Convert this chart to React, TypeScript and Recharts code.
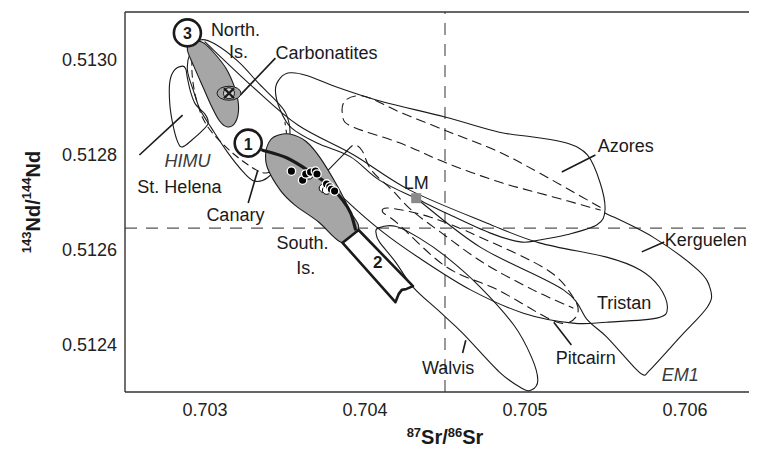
import React from "react";
import { ComposedChart, Scatter, XAxis, YAxis, ReferenceLine } from "recharts";

// field outlines, [87Sr/86Sr, 143Nd/144Nd]
const stHelena = [
  [0.70286, 0.512986], [0.70281, 0.512978], [0.70278, 0.512953], [0.70278, 0.512906],
  [0.7028, 0.512862], [0.70283, 0.512826], [0.70286, 0.512816], [0.70292, 0.512831],
  [0.70298, 0.512849], [0.70302, 0.512866], [0.703, 0.512885], [0.70294, 0.512906],
  [0.70291, 0.512932], [0.70289, 0.512961], [0.70288, 0.51298],
];
const canary = [
  [0.70297, 0.513041], [0.70291, 0.513016], [0.70289, 0.512978], [0.70293, 0.512932],
  [0.70297, 0.512894], [0.70304, 0.512856], [0.70314, 0.512805], [0.70324, 0.512763],
  [0.70331, 0.512744], [0.70339, 0.512751], [0.70348, 0.512788], [0.70353, 0.512841],
  [0.70351, 0.512883], [0.70345, 0.512911], [0.70334, 0.512948], [0.70321, 0.512995],
  [0.70306, 0.513033],
];
const canaryDashed = [
  [0.70292, 0.513028], [0.70292, 0.512967], [0.70295, 0.512911], [0.70301, 0.512862],
  [0.70313, 0.512816], [0.70327, 0.512778], [0.70338, 0.512761], [0.70347, 0.512782],
  [0.70351, 0.512826], [0.7035, 0.512868],
];
const northIs = [
  [0.70291, 0.513037], [0.70298, 0.513037], [0.70304, 0.51302], [0.70313, 0.512982],
  [0.70319, 0.512936], [0.70321, 0.512898], [0.70319, 0.512868], [0.70314, 0.512858],
  [0.70309, 0.512871], [0.70304, 0.512902], [0.70299, 0.51294], [0.70293, 0.512986],
  [0.70289, 0.51302],
];
const southIs = [
  [0.70341, 0.512831], [0.70346, 0.512841], [0.70353, 0.512843], [0.70363, 0.512828],
  [0.70372, 0.512793], [0.70383, 0.512732], [0.70391, 0.512679], [0.70396, 0.512645],
  [0.70386, 0.512614], [0.70371, 0.512658], [0.70356, 0.512694], [0.70347, 0.512725],
  [0.70339, 0.512772], [0.70338, 0.512805],
];
const trend1 = [
  [0.70336, 0.512809], [0.70351, 0.512793], [0.70366, 0.512763], [0.70378, 0.512734],
  [0.70386, 0.512704], [0.70391, 0.512677], [0.70394, 0.512643],
];
const box2 = [
  [0.70386, 0.512614], [0.70396, 0.512641], [0.7043, 0.512523], [0.70426, 0.512517],
  [0.70423, 0.512515], [0.70421, 0.512506], [0.70419, 0.512489],
];
const azores = [
  [0.70347, 0.512961], [0.70353, 0.512972], [0.70363, 0.512967], [0.70384, 0.51294],
  [0.70411, 0.512911], [0.7045, 0.512879], [0.70484, 0.512847], [0.70505, 0.512837],
  [0.70526, 0.512824], [0.70539, 0.512799], [0.70547, 0.51274], [0.7055, 0.512683],
  [0.70545, 0.512652], [0.70526, 0.512631], [0.70509, 0.51262], [0.70497, 0.512616],
  [0.70478, 0.512635], [0.70453, 0.512673], [0.70434, 0.512704], [0.70409, 0.512746],
  [0.70391, 0.512795], [0.7037, 0.512824], [0.70354, 0.512856], [0.70347, 0.512894],
  [0.70344, 0.512936],
];
const azoresDashed = [
  [0.70547, 0.512689], [0.70509, 0.512761], [0.70484, 0.512805], [0.70453, 0.512847],
  [0.70422, 0.512889], [0.70403, 0.512919], [0.70394, 0.512923], [0.70387, 0.512911],
  [0.70386, 0.512885], [0.70391, 0.51286], [0.70422, 0.512824], [0.70451, 0.512782],
  [0.70484, 0.512742], [0.70513, 0.512715], [0.70547, 0.512683],
];
const tristan = [
  [0.703, 0.513037], [0.7033, 0.512942], [0.70358, 0.512862], [0.70393, 0.512799],
  [0.70428, 0.512725], [0.70476, 0.512656], [0.70509, 0.512614], [0.70551, 0.512584],
  [0.70572, 0.512557], [0.70584, 0.512521], [0.70589, 0.512479], [0.70583, 0.512456],
  [0.70551, 0.512447], [0.7053, 0.512445], [0.70499, 0.512466], [0.70466, 0.512515],
  [0.70434, 0.512582], [0.70411, 0.512637], [0.70388, 0.512704], [0.70366, 0.512778],
  [0.7035, 0.512837],
];
const walvis = [
  [0.70408, 0.512645], [0.70419, 0.512649], [0.70434, 0.512624], [0.70451, 0.512584],
  [0.70472, 0.512521], [0.70493, 0.512441], [0.70504, 0.512374], [0.70508, 0.512325],
  [0.70504, 0.512304], [0.70498, 0.512308], [0.70484, 0.512342], [0.70461, 0.512424],
  [0.70447, 0.512468], [0.7043, 0.512521], [0.70419, 0.512574], [0.70409, 0.512616],
  [0.70407, 0.512633],
];
const kerguelen = [
  [0.70432, 0.512708], [0.70472, 0.512605], [0.70524, 0.512515], [0.70539, 0.512452],
  [0.70551, 0.512416], [0.70568, 0.512353], [0.70574, 0.512336], [0.70578, 0.512346],
  [0.70597, 0.512416], [0.70614, 0.512479], [0.70616, 0.512515], [0.70608, 0.512557],
  [0.7058, 0.512626], [0.7055, 0.512677],
];
const pitcairn = [
  [0.70411, 0.512679], [0.70416, 0.512687], [0.70441, 0.512668], [0.70472, 0.512626],
  [0.70514, 0.512557], [0.7053, 0.5125], [0.70533, 0.512466], [0.70526, 0.512445],
  [0.70514, 0.512456], [0.70483, 0.512515], [0.70451, 0.512563], [0.7042, 0.512656],
];
const pitcairnTail = [[0.70377, 0.512767], [0.70388, 0.512805]];
const pitcairnDashed = [
  [0.70388, 0.512805], [0.70393, 0.51282], [0.70398, 0.512809], [0.70404, 0.512767],
  [0.70417, 0.512725], [0.70429, 0.512683], [0.70447, 0.512637], [0.70474, 0.512572],
  [0.70505, 0.512515], [0.7053, 0.512477],
];

// samples
const blackSamples = [
  [0.70354, 0.512765], [0.70361, 0.512746], [0.70363, 0.512759], [0.70366, 0.512763],
  [0.70369, 0.512765], [0.7037, 0.512759], [0.70376, 0.512738], [0.70378, 0.512732],
  [0.70379, 0.512727], [0.70381, 0.512723],
];
const whiteSamples = [[0.70365, 0.512757], [0.70374, 0.512729], [0.70376, 0.512725]];
const carbonatites = [[0.70315, 0.512929]];
const lm = [[0.70432, 0.512708]];

// reference values (Bulk Earth)
const bulkSr = 0.7045;
const churNd = 0.512645;

const xTicks = [0.703, 0.7035, 0.704, 0.7045, 0.705, 0.7055, 0.706];
const yTicks = [0.5124, 0.5126, 0.5128, 0.513];
const yMinor = [0.5124, 0.5125, 0.5126, 0.5127, 0.5128, 0.5129, 0.513];

const numbered = [
  { sr: 0.70327, nd: 0.512824, text: "1" },
  { sr: 0.70289, nd: 0.513056, text: "3" },
];
const labels = [
  { sr: 0.70319, nd: 0.513062, text: "North." },
  { sr: 0.70321, nd: 0.513016, text: "Is." },
  { sr: 0.70376, nd: 0.513014, text: "Carbonatites" },
  { sr: 0.70289, nd: 0.512786, text: "HIMU" },
  { sr: 0.70284, nd: 0.512732, text: "St. Helena" },
  { sr: 0.70319, nd: 0.512673, text: "Canary" },
  { sr: 0.70361, nd: 0.512614, text: "South." },
  { sr: 0.70363, nd: 0.512561, text: "Is." },
  { sr: 0.70432, nd: 0.51274, text: "LM" },
  { sr: 0.70563, nd: 0.512818, text: "Azores" },
  { sr: 0.70613, nd: 0.51262, text: "Kerguelen" },
  { sr: 0.70562, nd: 0.512487, text: "Tristan" },
  { sr: 0.70538, nd: 0.512372, text: "Pitcairn" },
  { sr: 0.70452, nd: 0.512351, text: "Walvis" },
  { sr: 0.70597, nd: 0.512336, text: "EM1" },
];
const boxLabel = [{ sr: 0.70408, nd: 0.512572, text: "2" }];
const leaders = [
  [[0.70322, 0.512925], [0.70344, 0.513003]],
  [[0.70259, 0.512799], [0.70286, 0.512883]],
  [[0.70327, 0.512698], [0.70333, 0.512767]],
  [[0.70523, 0.512763], [0.70544, 0.512799]],
  [[0.70573, 0.512595], [0.70587, 0.512616]],
  [[0.70518, 0.512447], [0.70529, 0.512399]],
  [[0.70463, 0.512409], [0.70461, 0.512382]],
];
const italic = ["HIMU", "EM1"];

const FONT = '"Liberation Sans", Arial, Helvetica, sans-serif';
const INK = "#1a1a1a";

const toPts = (arr: number[][]) => arr.map(([sr, nd]) => ({ sr, nd }));

function smoothPath(pts: { x: number; y: number }[], closed: boolean) {
  const n = pts.length;
  if (n < 2) return "";
  const get = (i: number) => (closed ? pts[(i + n) % n] : pts[Math.max(0, Math.min(n - 1, i))]);
  let d = `M${pts[0].x},${pts[0].y}`;
  const segs = closed ? n : n - 1;
  for (let i = 0; i < segs; i++) {
    const p0 = get(i - 1), p1 = get(i), p2 = get(i + 1), p3 = get(i + 2);
    const c1x = p1.x + (p2.x - p0.x) / 6, c1y = p1.y + (p2.y - p0.y) / 6;
    const c2x = p2.x - (p3.x - p1.x) / 6, c2y = p2.y - (p3.y - p1.y) / 6;
    d += `C${c1x},${c1y},${c2x},${c2y},${p2.x},${p2.y}`;
  }
  return closed ? d + "Z" : d;
}

function straightPath(pts: { x: number; y: number }[], closed: boolean) {
  const d = pts.map((p, i) => `${i ? "L" : "M"}${p.x},${p.y}`).join("");
  return closed ? d + "Z" : d;
}

type Style = { closed?: boolean; fill?: string; width?: number; dash?: string; straight?: boolean };

const outline = (s: Style) => (props: any) => {
  const pts = (props.points || []).filter((p: any) => p && Number.isFinite(p.x) && Number.isFinite(p.y));
  const d = s.straight ? straightPath(pts, !!s.closed) : smoothPath(pts, !!s.closed);
  return (
    <path
      d={d}
      fill={s.fill ?? "none"}
      stroke={INK}
      strokeWidth={s.width ?? 1.1}
      strokeDasharray={s.dash}
      strokeLinejoin="round"
      strokeLinecap="round"
    />
  );
};

const noDot = () => <g />;

const field = (name: string, arr: number[][], s: Style) => (
  <Scatter
    key={name}
    name={name}
    data={toPts(arr)}
    dataKey="nd"
    line={outline(s)}
    lineType="joint"
    shape={noDot}
    isAnimationActive={false}
  />
);

const TextMark = (props: any) => {
  const { cx, cy, payload } = props;
  const it = italic.includes(payload.text);
  return (
    <text
      x={cx}
      y={cy}
      textAnchor="middle"
      dominantBaseline="central"
      fontFamily={FONT}
      fontSize={18}
      fontStyle={it ? "italic" : "normal"}
      fill={it ? "#3a3a3a" : INK}
    >
      {payload.text}
    </text>
  );
};

const BoxNumber = (props: any) => (
  <text x={props.cx} y={props.cy} textAnchor="middle" dominantBaseline="central"
    fontFamily={FONT} fontSize={17} fontWeight="bold" fill={INK}>
    {props.payload.text}
  </text>
);

const CircleNumber = (props: any) => (
  <g>
    <circle cx={props.cx} cy={props.cy} r={13.5} fill="#fff" stroke={INK} strokeWidth={2.6} />
    <text x={props.cx} y={props.cy + 1} textAnchor="middle" dominantBaseline="central"
      fontFamily={FONT} fontSize={16} fontWeight="bold" fill={INK}>
      {props.payload.text}
    </text>
  </g>
);

const CarbMark = (props: any) => {
  const { cx, cy } = props;
  return (
    <g>
      <ellipse cx={cx} cy={cy} rx={12} ry={7} fill="#a3a3a3" stroke={INK} strokeWidth={1} />
      <circle cx={cx} cy={cy} r={5.5} fill="#d0d0d0" stroke={INK} strokeWidth={1} />
      <path d={`M${cx - 5},${cy - 5}L${cx + 5},${cy + 5}M${cx + 5},${cy - 5}L${cx - 5},${cy + 5}`}
        stroke={INK} strokeWidth={2.4} />
    </g>
  );
};

const LmMark = (props: any) => (
  <rect x={props.cx - 5} y={props.cy - 5} width={10} height={10} fill="#8a8a8a" />
);

const BlackDot = (props: any) => (
  <circle cx={props.cx} cy={props.cy} r={4.2} fill="#000" stroke="#fff" strokeWidth={1.3} />
);
const WhiteDot = (props: any) => (
  <circle cx={props.cx} cy={props.cy} r={4.2} fill="#fff" stroke="#000" strokeWidth={1} />
);

const YTitle = (props: any) => {
  const vb = props.viewBox || { x: 0, y: 0, width: 0, height: 0 };
  const x = vb.x + 25;
  const y = vb.y + vb.height / 2;
  return (
    <text x={x} y={y} transform={`rotate(-90 ${x} ${y})`} textAnchor="middle"
      fontFamily={FONT} fontWeight="bold" fontSize={20} fill={INK} dominantBaseline="central">
      <tspan fontSize={13} dy={-7}>143</tspan>
      <tspan dy={7}>Nd/</tspan>
      <tspan fontSize={13} dy={-7}>144</tspan>
      <tspan dy={7}>Nd</tspan>
    </text>
  );
};

const XTitle = (props: any) => {
  const vb = props.viewBox || { x: 0, y: 0, width: 0, height: 0 };
  const x = vb.x + vb.width * (320 / 632);
  const y = vb.y + 52;
  return (
    <text x={x} y={y} textAnchor="middle" fontFamily={FONT} fontWeight="bold" fontSize={20} fill={INK}>
      <tspan fontSize={13} dy={-7}>87</tspan>
      <tspan dy={7}>Sr/</tspan>
      <tspan fontSize={13} dy={-7}>86</tspan>
      <tspan dy={7}>Sr</tspan>
    </text>
  );
};

const fmtX = (v: number) => (Math.abs(v * 1000 - Math.round(v * 1000)) < 1e-6 ? v.toFixed(3) : "");

export default function App() {
  const xDomain: [number, number] = [0.7025, 0.70645];
  const yDomain: [number, number] = [0.5123, 0.5131];
  return (
    <div style={{ width: 749, height: 440 }}>
      <ComposedChart width={749} height={440} margin={{ top: 4, right: 0, bottom: 0, left: 0 }}
        style={{ fontFamily: FONT }}>
        <XAxis xAxisId={0} dataKey="sr" type="number" domain={xDomain} allowDataOverflow
          ticks={xTicks} tickFormatter={fmtX} interval={0} tickLine={false} tickMargin={5} height={56}
          axisLine={{ stroke: "#333", strokeWidth: 1.4 }}
          tick={{ fontSize: 18, fill: "#222", fontFamily: FONT }} label={<XTitle />} />
        <XAxis xAxisId="bt" dataKey="sr" type="number" domain={xDomain} allowDataOverflow
          ticks={xTicks} interval={0} mirror tick={false} axisLine={false} tickSize={7}
          tickLine={{ stroke: "#333", strokeWidth: 1.4 }} />
        <XAxis xAxisId="top" orientation="top" dataKey="sr" type="number" domain={xDomain}
          allowDataOverflow ticks={xTicks} interval={0} mirror tick={false} tickSize={7}
          axisLine={{ stroke: "#333", strokeWidth: 1.4 }} tickLine={{ stroke: "#333", strokeWidth: 1.4 }} />
        <YAxis yAxisId={0} dataKey="nd" type="number" domain={yDomain} allowDataOverflow
          ticks={yTicks} interval={0} tickFormatter={(v: number) => v.toFixed(4)} width={117}
          tickLine={false} tickMargin={2} axisLine={{ stroke: "#333", strokeWidth: 1.4 }}
          tick={{ fontSize: 18, fill: "#222", fontFamily: FONT }} label={<YTitle />} />
        <YAxis yAxisId="yt" dataKey="nd" type="number" domain={yDomain} allowDataOverflow
          ticks={yMinor} interval={0} mirror tick={false} axisLine={false} tickSize={7}
          tickLine={{ stroke: "#333", strokeWidth: 1.4 }} />

        <ReferenceLine x={bulkSr} stroke="#555" strokeWidth={1.2} strokeDasharray="12 9" />
        <ReferenceLine y={churNd} stroke="#555" strokeWidth={1.2} strokeDasharray="12 9" />

        {field("St. Helena", stHelena, { closed: true })}
        {field("Canary", canary, { closed: true })}
        {field("Canary dashed", canaryDashed, { dash: "7 5" })}
        {field("Azores", azores, { closed: true })}
        {field("Azores dashed", azoresDashed, { dash: "9 6" })}
        {field("Tristan", tristan, {})}
        {field("Kerguelen", kerguelen, {})}
        {field("Walvis", walvis, { closed: true })}
        {field("Pitcairn", pitcairn, { closed: true, dash: "9 6" })}
        {field("Pitcairn tail", pitcairnTail, { straight: true })}
        {field("Pitcairn dashed", pitcairnDashed, { dash: "9 6" })}
        {field("North. Is.", northIs, { closed: true, fill: "#a6a6a6" })}
        {field("South. Is.", southIs, { closed: true, fill: "#a6a6a6" })}
        {field("Trend 1", trend1, { width: 3.2 })}
        {field("Field 2", box2, { closed: true, straight: true, fill: "#fff", width: 2.6 })}

        {leaders.map((seg, i) => (
          <ReferenceLine key={`ld${i}`} segment={[{ x: seg[0][0], y: seg[0][1] }, { x: seg[1][0], y: seg[1][1] }]}
            stroke={INK} strokeWidth={1.6} ifOverflow="visible" />
        ))}

        <Scatter data={toPts(whiteSamples)} dataKey="nd" shape={WhiteDot} isAnimationActive={false} />
        <Scatter data={toPts(blackSamples)} dataKey="nd" shape={BlackDot} isAnimationActive={false} />
        <Scatter data={toPts(carbonatites)} dataKey="nd" shape={CarbMark} isAnimationActive={false} />
        <Scatter data={toPts(lm)} dataKey="nd" shape={LmMark} isAnimationActive={false} />
        <Scatter data={numbered} dataKey="nd" shape={CircleNumber} isAnimationActive={false} />
        <Scatter data={boxLabel} dataKey="nd" shape={BoxNumber} isAnimationActive={false} />
        <Scatter data={labels} dataKey="nd" shape={TextMark} isAnimationActive={false} />
      </ComposedChart>
    </div>
  );
}
